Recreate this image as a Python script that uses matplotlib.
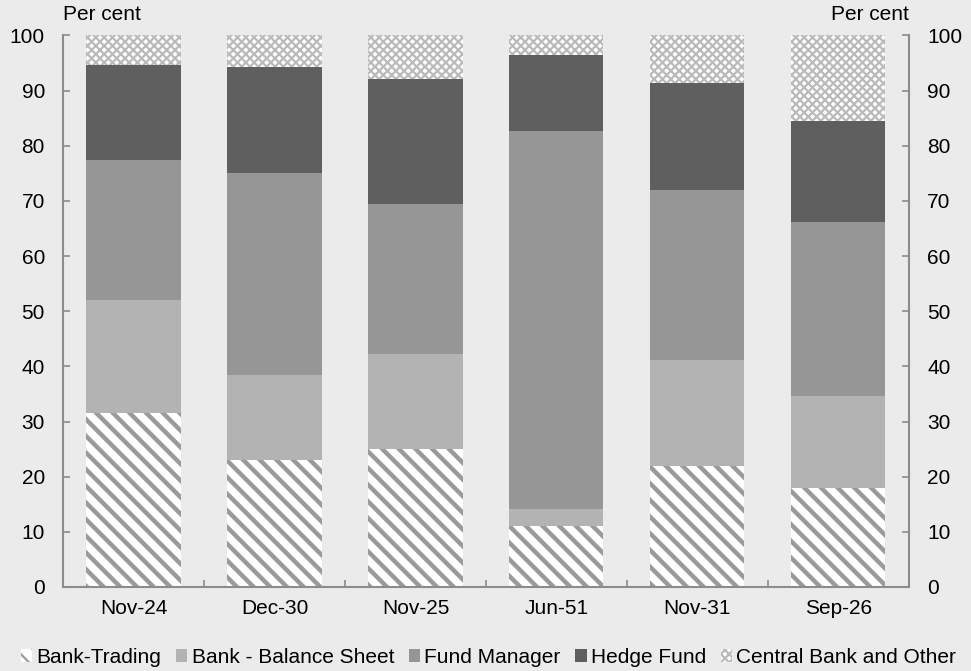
import matplotlib
matplotlib.use("Agg")
import matplotlib.pyplot as plt
import numpy as np

plt.rcParams['font.family'] = ['Liberation Sans', 'DejaVu Sans']

categories = ["Nov-24", "Dec-30", "Nov-25", "Jun-51", "Nov-31", "Sep-26"]
bank_trading = [31.5, 23.0, 25.0, 11.0, 22.0, 18.0]
bank_balance_sheet = [20.5, 15.5, 17.3, 3.2, 19.2, 16.6]
fund_manager = [25.5, 36.5, 27.2, 68.5, 30.8, 31.6]
hedge_fund = [17.2, 19.3, 22.6, 13.7, 19.4, 18.3]
central_bank_other = [5.3, 5.7, 7.9, 3.6, 8.6, 15.5]

bg = "#ebebeb"
spine_col = "#8c8c8c"
fs = 15

fig = plt.figure(figsize=(9.71, 6.71), dpi=100, facecolor=bg)
ax = fig.add_axes([0.0649, 0.1252, 0.8712, 0.8219])
ax.set_facecolor(bg)

x = np.arange(len(categories))
w = 0.667
bottom = np.zeros(len(categories))

def add(vals, label, **kw):
    global bottom
    hlw = kw.pop("hlw", None)
    bars = ax.bar(x, vals, w, bottom=bottom, label=label, linewidth=0, **kw)
    if hlw is not None:
        for b in bars:
            if hasattr(b, "set_hatch_linewidth"):
                b.set_hatch_linewidth(hlw)
    bottom = bottom + np.array(vals)
    return bars

plt.rcParams['hatch.linewidth'] = 3.2
add(bank_trading, "Bank-Trading", facecolor="white", edgecolor="#9a9a9a",
    hatch="\\\\", hlw=3.2)
add(bank_balance_sheet, "Bank - Balance Sheet", color="#b3b3b3")
add(fund_manager, "Fund Manager", color="#969696")
add(hedge_fund, "Hedge Fund", color="#5f5f5f")
plt.rcParams['hatch.linewidth'] = 1.6
add(central_bank_other, "Central Bank and Other", facecolor="white",
    edgecolor="#bababa", hatch="xxxx", hlw=1.6)

ax.set_xlim(-0.5, len(categories) - 0.5)
ax.set_ylim(0, 100)
ax.set_yticks(np.arange(0, 101, 10))
ax.set_xticks(x)
ax.set_xticklabels(categories)
ax.set_xticks(np.arange(-0.5, len(categories)), minor=True)

ax.spines["top"].set_visible(False)
for s in ["left", "right", "bottom"]:
    ax.spines[s].set_color(spine_col)
    ax.spines[s].set_linewidth(1.5)

ax.tick_params(axis="y", which="major", direction="in", length=5, width=1.2,
               color=spine_col, labelsize=fs, left=True, right=True,
               labelleft=True, labelright=True, pad=13)
ax.tick_params(axis="x", which="major", length=0, labelsize=fs, pad=9)
ax.tick_params(axis="x", which="minor", direction="in", length=5, width=1.2,
               color=spine_col)

fig.text(0.0649, 0.978, "Per cent", fontsize=fs, ha="left", va="center")
fig.text(0.9361, 0.978, "Per cent", fontsize=fs, ha="right", va="center")

leg = ax.legend(loc="center", bbox_to_anchor=(0.503, 0.02), bbox_transform=fig.transFigure,
                ncol=5, frameon=False, fontsize=fs, handlelength=0.55, handleheight=0.55,
                handletextpad=0.2, columnspacing=0.7, borderaxespad=0, borderpad=0)

fig.savefig("out.png", dpi=100, facecolor=bg)
